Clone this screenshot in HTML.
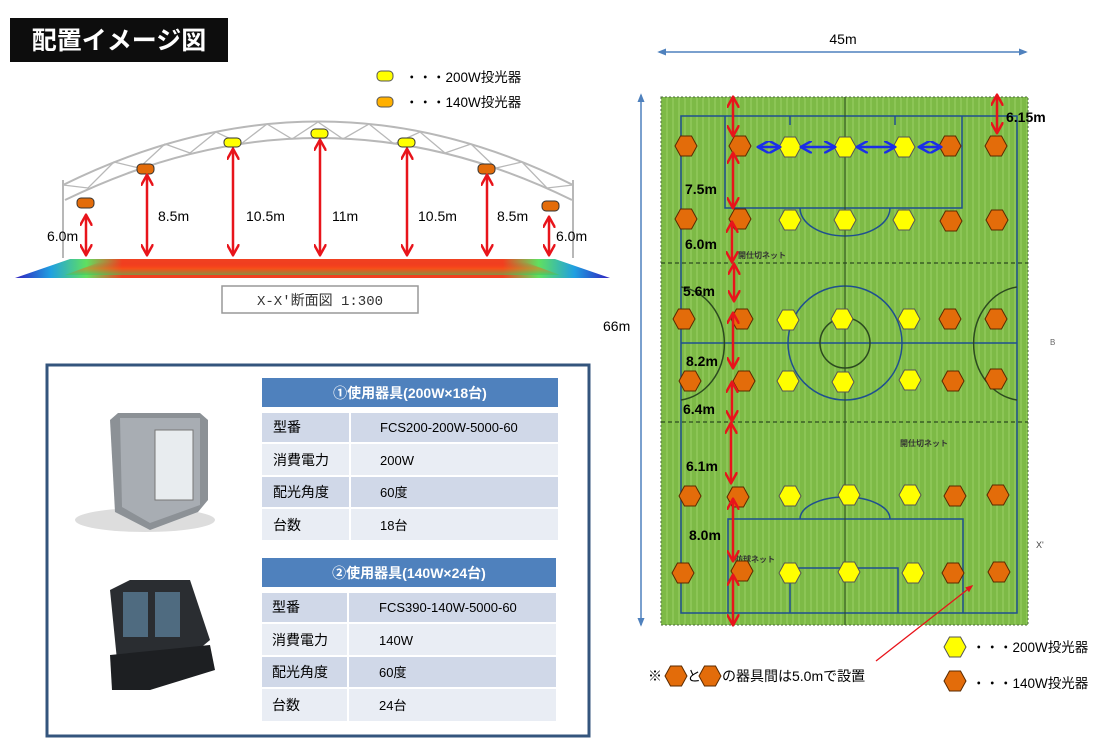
<!DOCTYPE html>
<html><head><meta charset="utf-8"><style>
body{margin:0;background:#fff;}
svg{display:block;font-family:"Liberation Sans","Noto Sans CJK JP",sans-serif;}
</style></head><body>
<svg width="1095" height="751" viewBox="0 0 1095 751" xmlns="http://www.w3.org/2000/svg">
<defs>
<marker id="ar" viewBox="0 0 10 10" refX="8" refY="5" markerWidth="5" markerHeight="5" orient="auto-start-reverse"><path d="M0,0L9,5L0,10" fill="none" stroke="#e8141b" stroke-width="2"/></marker>
<marker id="ab" viewBox="0 0 10 10" refX="8" refY="5" markerWidth="5" markerHeight="5" orient="auto-start-reverse"><path d="M0,0L9,5L0,10" fill="none" stroke="#1a2ee8" stroke-width="2"/></marker>
<marker id="ag" viewBox="0 0 10 10" refX="8" refY="5" markerWidth="6" markerHeight="6" orient="auto-start-reverse"><path d="M0,1L10,5L0,9z" fill="#4f81bd"/></marker>
<marker id="ad" viewBox="0 0 10 10" refX="8" refY="5" markerWidth="6" markerHeight="6" orient="auto"><path d="M0,1L10,5L0,9z" fill="#e8141b"/></marker>
<symbol id="ho" viewBox="-12 -12 24 24" overflow="visible"><polygon points="-11,0 -5.5,-10 5.5,-10 11,0 5.5,10 -5.5,10" fill="#e36c0a" stroke="#5a2a00" stroke-width="1"/></symbol>
<symbol id="hy" viewBox="-12 -12 24 24" overflow="visible"><polygon points="-11,0 -5.5,-10 5.5,-10 11,0 5.5,10 -5.5,10" fill="#ffff00" stroke="#555" stroke-width="1"/></symbol>
<linearGradient id="heat" x1="0" y1="0" x2="1" y2="0">
<stop offset="0" stop-color="#3020c0"/><stop offset="0.06" stop-color="#20a0e0"/><stop offset="0.12" stop-color="#60e060"/><stop offset="0.18" stop-color="#f04020"/><stop offset="0.82" stop-color="#f04020"/><stop offset="0.88" stop-color="#60e060"/><stop offset="0.94" stop-color="#20a0e0"/><stop offset="1" stop-color="#3020c0"/>
</linearGradient>
<linearGradient id="heatv" x1="0" y1="0" x2="0" y2="1">
<stop offset="0" stop-color="#f02020" stop-opacity="0"/><stop offset="0.5" stop-color="#ff6010" stop-opacity="0.6"/><stop offset="1" stop-color="#30d060" stop-opacity="0.7"/>
</linearGradient>
<pattern id="grass" width="6" height="6" patternUnits="userSpaceOnUse"><rect width="6" height="6" fill="#7dba46"/><rect x="0" width="2" height="6" fill="#8cc556"/></pattern>
</defs>

<!-- title -->
<rect x="10" y="18" width="218" height="44" fill="#0d0d0d"/>
<text x="119" y="49" font-size="25" font-weight="bold" fill="#fff" text-anchor="middle">配置イメージ図</text>

<!-- top legend -->
<rect x="377" y="71" width="16" height="10" rx="4" fill="#ffff00" stroke="#555"/>
<text x="405" y="82" font-size="13.5" fill="#000">・・・200W投光器</text>
<rect x="377" y="97" width="16" height="10" rx="4" fill="#ffb000" stroke="#555"/>
<text x="405" y="107" font-size="13.5" fill="#000">・・・140W投光器</text>

<!-- truss -->
<g fill="none" stroke="#b8b8b8" stroke-width="2">
<path d="M63,185 Q320,58 573,185"/>
<path d="M65,200 Q320,76 572,200"/>
<path d="M63,180 L63,258 M573,180 L573,258"/>
<path d="M63,185 L88,188 L114,162 L139,168 L165,144 L190,153 L216,132 L241,144 L267,124 L292,139 L318,122 L343,139 L369,124 L394,144 L420,132 L445,153 L471,144 L496,168 L522,162 L547,188 L573,185" stroke-width="1.3"/>
</g>
<!-- fixtures on arch -->
<g stroke="#333" stroke-width="1">
<rect x="77" y="198" width="17" height="10" rx="4" fill="#e36c0a"/>
<rect x="137" y="164" width="17" height="10" rx="4" fill="#e36c0a"/>
<rect x="224" y="138" width="17" height="9" rx="4" fill="#ffff00"/>
<rect x="311" y="129" width="17" height="9" rx="4" fill="#ffff00"/>
<rect x="398" y="138" width="17" height="9" rx="4" fill="#ffff00"/>
<rect x="478" y="164" width="17" height="10" rx="4" fill="#e36c0a"/>
<rect x="542" y="201" width="17" height="10" rx="4" fill="#e36c0a"/>
</g>
<g stroke="#e8141b" stroke-width="2.5" marker-start="url(#ar)" marker-end="url(#ar)">
<line x1="86" y1="216" x2="86" y2="254"/>
<line x1="147" y1="176" x2="147" y2="254"/>
<line x1="233" y1="150" x2="233" y2="254"/>
<line x1="320" y1="141" x2="320" y2="254"/>
<line x1="407" y1="150" x2="407" y2="254"/>
<line x1="487" y1="176" x2="487" y2="254"/>
<line x1="549" y1="218" x2="549" y2="254"/>
</g>
<g font-size="14" fill="#000">
<text x="47" y="241">6.0m</text>
<text x="158" y="221">8.5m</text>
<text x="246" y="221">10.5m</text>
<text x="332" y="221">11m</text>
<text x="418" y="221">10.5m</text>
<text x="497" y="221">8.5m</text>
<text x="556" y="241">6.0m</text>
</g>
<!-- heatmap -->
<polygon points="70,259 555,259 610,278 15,278" fill="url(#heat)"/>
<polygon points="100,262 525,262 560,275 65,275" fill="url(#heatv)" opacity="0.8"/>
<rect x="222" y="286" width="196" height="27" fill="#fff" stroke="#999" stroke-width="1.5"/>
<text x="320" y="305" font-size="14" fill="#333" text-anchor="middle" font-family="Liberation Mono,Noto Sans CJK JP,monospace">X-X'断面図  1:300</text>

<!-- equipment box -->
<rect x="47" y="365" width="542" height="371" fill="#fff" stroke="#34557d" stroke-width="3"/>
<rect x="262" y="378" width="296" height="29" fill="#4f81bd"/>
<text x="410" y="398" font-size="14" font-weight="bold" fill="#fff" text-anchor="middle">①使用器具(200W×18台)</text>
<g>
<rect x="262" y="413" width="87" height="29" fill="#d0d8e8"/><rect x="351" y="413" width="207" height="29" fill="#d0d8e8"/>
<rect x="262" y="444" width="87" height="31" fill="#e9edf4"/><rect x="351" y="444" width="207" height="31" fill="#e9edf4"/>
<rect x="262" y="477" width="87" height="30" fill="#d0d8e8"/><rect x="351" y="477" width="207" height="30" fill="#d0d8e8"/>
<rect x="262" y="509" width="87" height="31" fill="#e9edf4"/><rect x="351" y="509" width="207" height="31" fill="#e9edf4"/>
</g>
<g font-size="14" fill="#000">
<text x="273" y="432">型番</text><text x="380" y="432" font-size="13">FCS200-200W-5000-60</text>
<text x="273" y="465">消費電力</text><text x="380" y="465" font-size="13">200W</text>
<text x="273" y="497">配光角度</text><text x="380" y="497" font-size="13">60度</text>
<text x="273" y="530">台数</text><text x="380" y="530" font-size="13">18台</text>
</g>
<rect x="262" y="558" width="294" height="29" fill="#4f81bd"/>
<text x="409" y="578" font-size="14" font-weight="bold" fill="#fff" text-anchor="middle">②使用器具(140W×24台)</text>
<g>
<rect x="262" y="593" width="85" height="29" fill="#d0d8e8"/><rect x="349" y="593" width="207" height="29" fill="#d0d8e8"/>
<rect x="262" y="624" width="85" height="31" fill="#e9edf4"/><rect x="349" y="624" width="207" height="31" fill="#e9edf4"/>
<rect x="262" y="657" width="85" height="30" fill="#d0d8e8"/><rect x="349" y="657" width="207" height="30" fill="#d0d8e8"/>
<rect x="262" y="689" width="85" height="32" fill="#e9edf4"/><rect x="349" y="689" width="207" height="32" fill="#e9edf4"/>
</g>
<g font-size="14" fill="#000">
<text x="272" y="612">型番</text><text x="379" y="612" font-size="13">FCS390-140W-5000-60</text>
<text x="272" y="645">消費電力</text><text x="379" y="645" font-size="13">140W</text>
<text x="272" y="677">配光角度</text><text x="379" y="677" font-size="13">60度</text>
<text x="272" y="710">台数</text><text x="379" y="710" font-size="13">24台</text>
</g>
<!-- product images -->
<ellipse cx="145" cy="520" rx="70" ry="12" fill="#ddd"/>
<path d="M110,420 L118,413 L200,413 L208,420 L208,500 L198,512 L150,530 L115,512 Z" fill="#8c9196"/>
<path d="M120,418 L200,418 L200,505 L150,523 L122,507 Z" fill="#a8adb3"/>
<rect x="155" y="430" width="38" height="70" fill="#e8ecef" stroke="#777"/>
<path d="M110,590 L130,580 L190,580 L210,640 L150,690 L120,690 Z" fill="#2a2d31"/>
<rect x="123" y="592" width="25" height="45" fill="#4f6b80"/>
<rect x="155" y="592" width="25" height="45" fill="#4f6b80"/>
<path d="M110,655 L210,645 L215,670 L150,690 L112,690 Z" fill="#1d1f22"/>

<!-- field -->
<rect x="661" y="97" width="367" height="528" fill="url(#grass)" stroke="#4a6a3a" stroke-dasharray="2,2"/>
<g fill="none" stroke="#1f4f8f" stroke-width="1.5">
<rect x="681" y="116" width="336" height="497"/>
<path d="M725,116 L725,208 L962,208 L962,116"/>
<path d="M790,116 L790,125 M895,116 L895,125"/>
<path d="M800,208 A45,28 0 0 0 890,208"/>
<path d="M728,613 L728,519 L963,519 L963,613"/>
<path d="M790,613 L790,568 L898,568 L898,613"/>
<path d="M800,519 A45,22 0 0 1 890,519"/>
<circle cx="845" cy="343" r="57"/>
<line x1="681" y1="343" x2="1017" y2="343"/>
<path d="M681,287 A50,57 0 0 1 681,400 M1017,287 A50,57 0 0 0 1017,400" stroke="#2c4a20"/>
</g>
<circle cx="845" cy="343" r="25" fill="none" stroke="#2c4a20" stroke-width="1.5"/>
<line x1="845" y1="97" x2="845" y2="625" stroke="#2c4a20" stroke-width="1"/>
<g stroke="#2c4a20" stroke-width="1.2" stroke-dasharray="4,3">
<line x1="661" y1="263" x2="1028" y2="263"/>
<line x1="661" y1="422" x2="1028" y2="422"/>
</g>
<g font-size="8" fill="#333" font-weight="bold"><text x="738" y="258">開仕切ネット</text><text x="900" y="446">開仕切ネット</text><text x="735" y="562">防球ネット</text></g>

<!-- dimension arrows -->
<line x1="659" y1="52" x2="1026" y2="52" stroke="#4f81bd" stroke-width="1.5" marker-start="url(#ag)" marker-end="url(#ag)"/>
<text x="843" y="44" font-size="14" text-anchor="middle">45m</text>
<line x1="641" y1="95" x2="641" y2="625" stroke="#4f81bd" stroke-width="1.5" marker-start="url(#ag)" marker-end="url(#ag)"/>
<text x="603" y="331" font-size="14">66m</text>

<!-- hexes -->
<g>
<use href="#ho" x="674" y="134" width="24" height="24"/><use href="#ho" x="728" y="134" width="24" height="24"/><use href="#hy" x="778" y="135" width="24" height="24"/><use href="#hy" x="833" y="135" width="24" height="24"/><use href="#hy" x="892" y="135" width="24" height="24"/><use href="#ho" x="938" y="134" width="24" height="24"/><use href="#ho" x="984" y="134" width="24" height="24"/>
<use href="#ho" x="674" y="207" width="24" height="24"/><use href="#ho" x="728" y="207" width="24" height="24"/><use href="#hy" x="778" y="208" width="24" height="24"/><use href="#hy" x="833" y="208" width="24" height="24"/><use href="#hy" x="892" y="208" width="24" height="24"/><use href="#ho" x="939" y="209" width="24" height="24"/><use href="#ho" x="985" y="208" width="24" height="24"/>
<use href="#ho" x="672" y="307" width="24" height="24"/><use href="#ho" x="730" y="307" width="24" height="24"/><use href="#hy" x="776" y="308" width="24" height="24"/><use href="#hy" x="830" y="307" width="24" height="24"/><use href="#hy" x="897" y="307" width="24" height="24"/><use href="#ho" x="938" y="307" width="24" height="24"/><use href="#ho" x="984" y="307" width="24" height="24"/>
<use href="#ho" x="678" y="369" width="24" height="24"/><use href="#ho" x="732" y="369" width="24" height="24"/><use href="#hy" x="776" y="369" width="24" height="24"/><use href="#hy" x="831" y="370" width="24" height="24"/><use href="#hy" x="898" y="368" width="24" height="24"/><use href="#ho" x="941" y="369" width="24" height="24"/><use href="#ho" x="984" y="367" width="24" height="24"/>
<use href="#ho" x="678" y="484" width="24" height="24"/><use href="#ho" x="726" y="485" width="24" height="24"/><use href="#hy" x="778" y="484" width="24" height="24"/><use href="#hy" x="837" y="483" width="24" height="24"/><use href="#hy" x="898" y="483" width="24" height="24"/><use href="#ho" x="943" y="484" width="24" height="24"/><use href="#ho" x="986" y="483" width="24" height="24"/>
<use href="#ho" x="671" y="561" width="24" height="24"/><use href="#ho" x="730" y="559" width="24" height="24"/><use href="#hy" x="778" y="561" width="24" height="24"/><use href="#hy" x="837" y="560" width="24" height="24"/><use href="#hy" x="901" y="561" width="24" height="24"/><use href="#ho" x="941" y="561" width="24" height="24"/><use href="#ho" x="987" y="560" width="24" height="24"/>
</g>

<!-- red arrows field -->
<g stroke="#e8141b" stroke-width="2.5" marker-start="url(#ar)" marker-end="url(#ar)">
<line x1="733" y1="98" x2="733" y2="135"/>
<line x1="733" y1="154" x2="733" y2="207"/>
<line x1="732" y1="223" x2="732" y2="261"/>
<line x1="734" y1="265" x2="734" y2="300"/>
<line x1="733" y1="314" x2="733" y2="367"/>
<line x1="732" y1="383" x2="732" y2="420"/>
<line x1="731" y1="424" x2="731" y2="482"/>
<line x1="733" y1="500" x2="733" y2="560"/>
<line x1="733" y1="576" x2="733" y2="624"/>
<line x1="997" y1="96" x2="997" y2="132"/>
</g>
<g font-size="14" font-weight="bold" fill="#000">
<text x="685" y="194">7.5m</text><text x="685" y="249">6.0m</text><text x="683" y="296">5.6m</text>
<text x="686" y="366">8.2m</text><text x="683" y="414">6.4m</text><text x="686" y="471">6.1m</text>
<text x="689" y="540">8.0m</text><text x="1006" y="122">6.15m</text>
</g>
<g stroke="#1a2ee8" stroke-width="2.5" marker-start="url(#ab)" marker-end="url(#ab)">
<line x1="759" y1="147" x2="779" y2="147"/>
<line x1="802" y1="147" x2="834" y2="147"/>
<line x1="858" y1="147" x2="894" y2="147"/>
<line x1="920" y1="147" x2="940" y2="147"/>
</g>
<text x="1050" y="345" font-size="8" fill="#666">B</text>
<text x="1036" y="548" font-size="9" fill="#444">X'</text>

<!-- note & legend -->
<line x1="876" y1="661" x2="972" y2="586" stroke="#e8141b" stroke-width="1.3" marker-end="url(#ad)"/>
<text x="648" y="681" font-size="14" fill="#000">※</text>
<use href="#ho" x="664" y="664" width="24" height="24"/>
<text x="687" y="681" font-size="14" fill="#000">と</text>
<use href="#ho" x="698" y="664" width="24" height="24"/>
<text x="722" y="681" font-size="14" fill="#000">の器具間は5.0mで設置</text>
<use href="#hy" x="943" y="635" width="24" height="24"/>
<text x="972" y="652" font-size="13.5">・・・200W投光器</text>
<use href="#ho" x="943" y="669" width="24" height="24"/>
<text x="972" y="688" font-size="13.5">・・・140W投光器</text>
</svg>
</body></html>
